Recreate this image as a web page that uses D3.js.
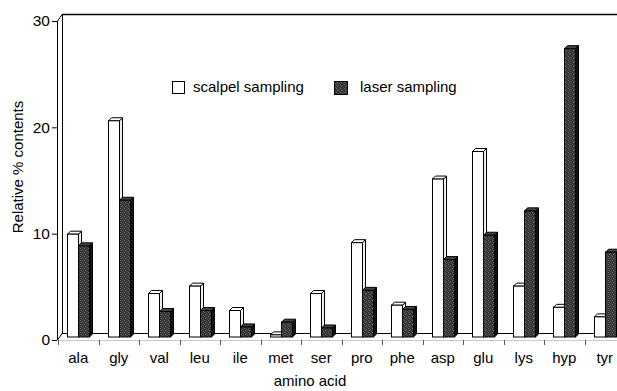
<!DOCTYPE html>
<html>
<head>
<meta charset="utf-8">
<script src="https://cdn.jsdelivr.net/npm/d3@7"></script>
<style>
  body { margin: 0; background: #fff; }
  svg { display: block; font-family: "Liberation Sans", Arial, sans-serif; }
</style>
</head>
<body>
<svg id="chart" width="617" height="391"></svg>
<script>
var categories = ['ala', 'gly', 'val', 'leu', 'ile', 'met', 'ser', 'pro', 'phe', 'asp', 'glu', 'lys', 'hyp', 'tyr'];
var scalpel = [9.7, 20.4, 4.1, 4.8, 2.5, 0.2, 4.1, 8.9, 3.0, 14.9, 17.5, 4.8, 2.8, 1.9];
var laser = [8.6, 12.9, 2.4, 2.5, 0.95, 1.4, 0.85, 4.4, 2.6, 7.3, 9.6, 11.9, 27.2, 8.0];
var seriesNames = ['scalpel sampling', 'laser sampling'];
var yTicks = [0, 10, 20, 30];

var svg = d3.select('#chart');

// 3d box: front plane / back wall offsets
var left = 57, right = 624;
var depth = {dx: 5, dy: -7};
var bar3d = {dx: 3, dy: -3};

var x = d3.scaleBand().domain(categories).range([58, 58 + 40.5 * categories.length]).paddingInner(0).paddingOuter(0);
var xInner = d3.scaleBand().domain(seriesNames).range([9, 31]).padding(0);
// front-plane scale for the axis, bars sit a bit further back
var yAxis = d3.scaleLinear().domain([0, 30]).range([340, 21]);
var yBar = d3.scaleLinear().domain([0, 30]).range([337, 19]);

// texture for the dark bars
var defs = svg.append('defs');
var pat = defs.append('pattern').attr('id', 'dots').attr('width', 4).attr('height', 4)
  .attr('patternUnits', 'userSpaceOnUse');
pat.append('rect').attr('width', 4).attr('height', 4).attr('fill', '#333');
pat.append('rect').attr('x', 0).attr('y', 0).attr('width', 1).attr('height', 1).attr('fill', '#6a6a6a');
pat.append('rect').attr('x', 2).attr('y', 1).attr('width', 1).attr('height', 1).attr('fill', '#5a5a5a');
pat.append('rect').attr('x', 1).attr('y', 2).attr('width', 1).attr('height', 1).attr('fill', '#777');
pat.append('rect').attr('x', 3).attr('y', 3).attr('width', 1).attr('height', 1).attr('fill', '#505050');

var frame = svg.append('g').attr('fill', 'none').attr('stroke', '#000').attr('stroke-width', 1);

// left wall
var y0f = yAxis(0), y30f = yAxis(30);
frame.append('path').attr('d',
  'M' + (left + 0.5) + ',' + y30f + 'V' + y0f +
  'M' + (left + depth.dx + 0.5) + ',' + (y30f + depth.dy) + 'V' + (y0f + depth.dy) +
  'M' + (left + 0.5) + ',' + y30f + 'L' + (left + depth.dx + 0.5) + ',' + (y30f + depth.dy) +
  'M' + (left + 0.5) + ',' + y0f + 'L' + (left + depth.dx + 0.5) + ',' + (y0f + depth.dy));
// back wall top and floor back edge
frame.append('line').attr('x1', left + depth.dx).attr('x2', right)
  .attr('y1', y30f + depth.dy + 0.5).attr('y2', y30f + depth.dy + 0.5).attr('stroke-width', 1.5);
frame.append('line').attr('x1', left + depth.dx).attr('x2', right)
  .attr('y1', y0f + depth.dy + 0.5).attr('y2', y0f + depth.dy + 0.5);
// faint front floor edge
frame.append('line').attr('x1', left).attr('x2', right)
  .attr('y1', y0f + 0.5).attr('y2', y0f + 0.5).attr('stroke', '#c8c8c8');

// y ticks
var yg = svg.append('g');
yTicks.forEach(function (t) {
  yg.append('line').attr('x1', left - 5).attr('x2', left).attr('y1', yAxis(t) + 0.5).attr('y2', yAxis(t) + 0.5)
    .attr('stroke', '#000');
  yg.append('text').attr('x', left - 7).attr('y', yAxis(t)).attr('dy', '0.35em')
    .attr('text-anchor', 'end').attr('font-size', 15.5).text(t);
});

// x ticks at category boundaries
var xg = svg.append('g');
categories.forEach(function (c, i) {
  var xb = Math.round(x(c)) + 0.5;
  xg.append('line').attr('x1', xb).attr('x2', xb).attr('y1', y0f).attr('y2', y0f + 5)
    .attr('stroke', '#555');
  xg.append('text').attr('x', x(c) + x.bandwidth() / 2).attr('y', 363)
    .attr('text-anchor', 'middle').attr('font-size', 15).text(c);
});

// bars: front, top, side
function drawBar(g, x0, w, v, front, side, top) {
  var yb = yBar(0), yt = yBar(v);
  var dx = bar3d.dx, dy = bar3d.dy;
  g.append('path')
    .attr('d', 'M' + (x0 + w) + ',' + yt + 'L' + (x0 + w + dx) + ',' + (yt + dy) +
      'L' + (x0 + w + dx) + ',' + (yb + dy) + 'L' + (x0 + w) + ',' + yb + 'Z')
    .attr('fill', side).attr('stroke', '#000').attr('stroke-width', 1);
  g.append('path')
    .attr('d', 'M' + x0 + ',' + yt + 'L' + (x0 + dx) + ',' + (yt + dy) +
      'L' + (x0 + w + dx) + ',' + (yt + dy) + 'L' + (x0 + w) + ',' + yt + 'Z')
    .attr('fill', top).attr('stroke', '#000').attr('stroke-width', 1);
  g.append('rect').attr('x', x0).attr('y', yt).attr('width', w).attr('height', yb - yt)
    .attr('fill', front).attr('stroke', '#000').attr('stroke-width', 1);
}

var bars = svg.append('g');
categories.forEach(function (c, i) {
  var g = bars.append('g');
  var xs = Math.round(x(c) + xInner(seriesNames[0])) + 0.5;
  var xl = Math.round(x(c) + xInner(seriesNames[1])) + 0.5;
  var w = xInner.bandwidth();
  drawBar(g, xs, w, scalpel[i], '#fff', '#eee', '#fff');
  drawBar(g, xl, w, laser[i], 'url(#dots)', '#111', '#444');
});

// legend
var lg = svg.append('g').attr('font-size', 15);
lg.append('rect').attr('x', 172.5).attr('y', 81.5).attr('width', 12).attr('height', 12)
  .attr('fill', '#fff').attr('stroke', '#000');
lg.append('text').attr('x', 193).attr('y', 92).text(seriesNames[0]);
lg.append('rect').attr('x', 334.5).attr('y', 81.5).attr('width', 13).attr('height', 13)
  .attr('fill', 'url(#dots)').attr('stroke', '#000');
lg.append('text').attr('x', 360).attr('y', 92).text(seriesNames[1]);

// axis titles
svg.append('text').attr('transform', 'translate(23,167) rotate(-90)')
  .attr('text-anchor', 'middle').attr('font-size', 15).text('Relative % contents');
svg.append('text').attr('x', 310).attr('y', 386)
  .attr('text-anchor', 'middle').attr('font-size', 15).text('amino acid');
</script>
</body>
</html>
